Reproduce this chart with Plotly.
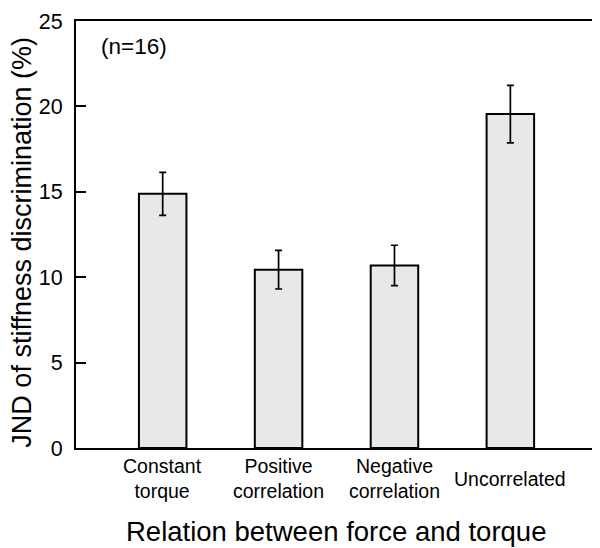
import plotly.graph_objects as go

categories = ["Constant torque", "Positive correlation", "Negative correlation", "Uncorrelated"]
tick_labels = ["Constant<br>torque", "Positive<br>correlation", "Negative<br>correlation", "Uncorrelated"]
jnd_values = [14.88, 10.44, 10.69, 19.55]
jnd_errors = [1.26, 1.13, 1.18, 1.68]
y_ticks = [0, 5, 10, 15, 20, 25]

FONT = "Liberation Sans, Arial, sans-serif"

fig = go.Figure()
fig.add_trace(go.Bar(
    x=categories, y=jnd_values, width=0.41,
    marker=dict(color="#e8e8e8", line=dict(color="black", width=2)),
    error_y=dict(type="data", array=jnd_errors, visible=True,
                 color="black", thickness=1.7, width=3.5),
    showlegend=False,
))

annotations = []
for c, t in zip(categories, tick_labels):
    annotations.append(dict(x=c, xref="x", y=-0.072, yref="paper", text=t,
                            showarrow=False, xanchor="center", yanchor="middle",
                            font=dict(family=FONT, size=19.5, color="black")))
annotations.append(dict(x=0.5, xref="paper", y=-0.195, yref="paper",
                        text="Relation between force and torque", showarrow=False,
                        xanchor="center", yanchor="middle",
                        font=dict(family=FONT, size=27.5, color="black")))
annotations.append(dict(x=-0.103, xref="paper", y=0.482, yref="paper",
                        text="JND of stiffness discrimination (%)", showarrow=False,
                        textangle=-90, xanchor="center", yanchor="middle",
                        font=dict(family=FONT, size=27, color="black")))
annotations.append(dict(x=0.045, xref="paper", y=0.94, yref="paper",
                        text="(n=16)", showarrow=False, xanchor="left", yanchor="middle",
                        font=dict(family=FONT, size=22.5, color="black")))

fig.update_layout(
    width=592, height=540,
    margin=dict(l=68, r=2, t=12, b=100),
    paper_bgcolor="white", plot_bgcolor="white",
    font=dict(family=FONT, color="black"),
    annotations=annotations,
    xaxis=dict(range=[-0.748, 3.739], showticklabels=False, ticks="",
               showline=True, linecolor="black", linewidth=2, mirror=True,
               showgrid=False, zeroline=False),
    yaxis=dict(range=[0, 25], tickvals=y_ticks, ticks="inside", ticklen=10,
               tickwidth=2, tickcolor="black", ticklabelstandoff=7,
               tickfont=dict(family=FONT, size=21.5, color="black"),
               showline=True, linecolor="black", linewidth=2, mirror=True,
               showgrid=False, zeroline=False),
)

fig.write_html("out.html")
